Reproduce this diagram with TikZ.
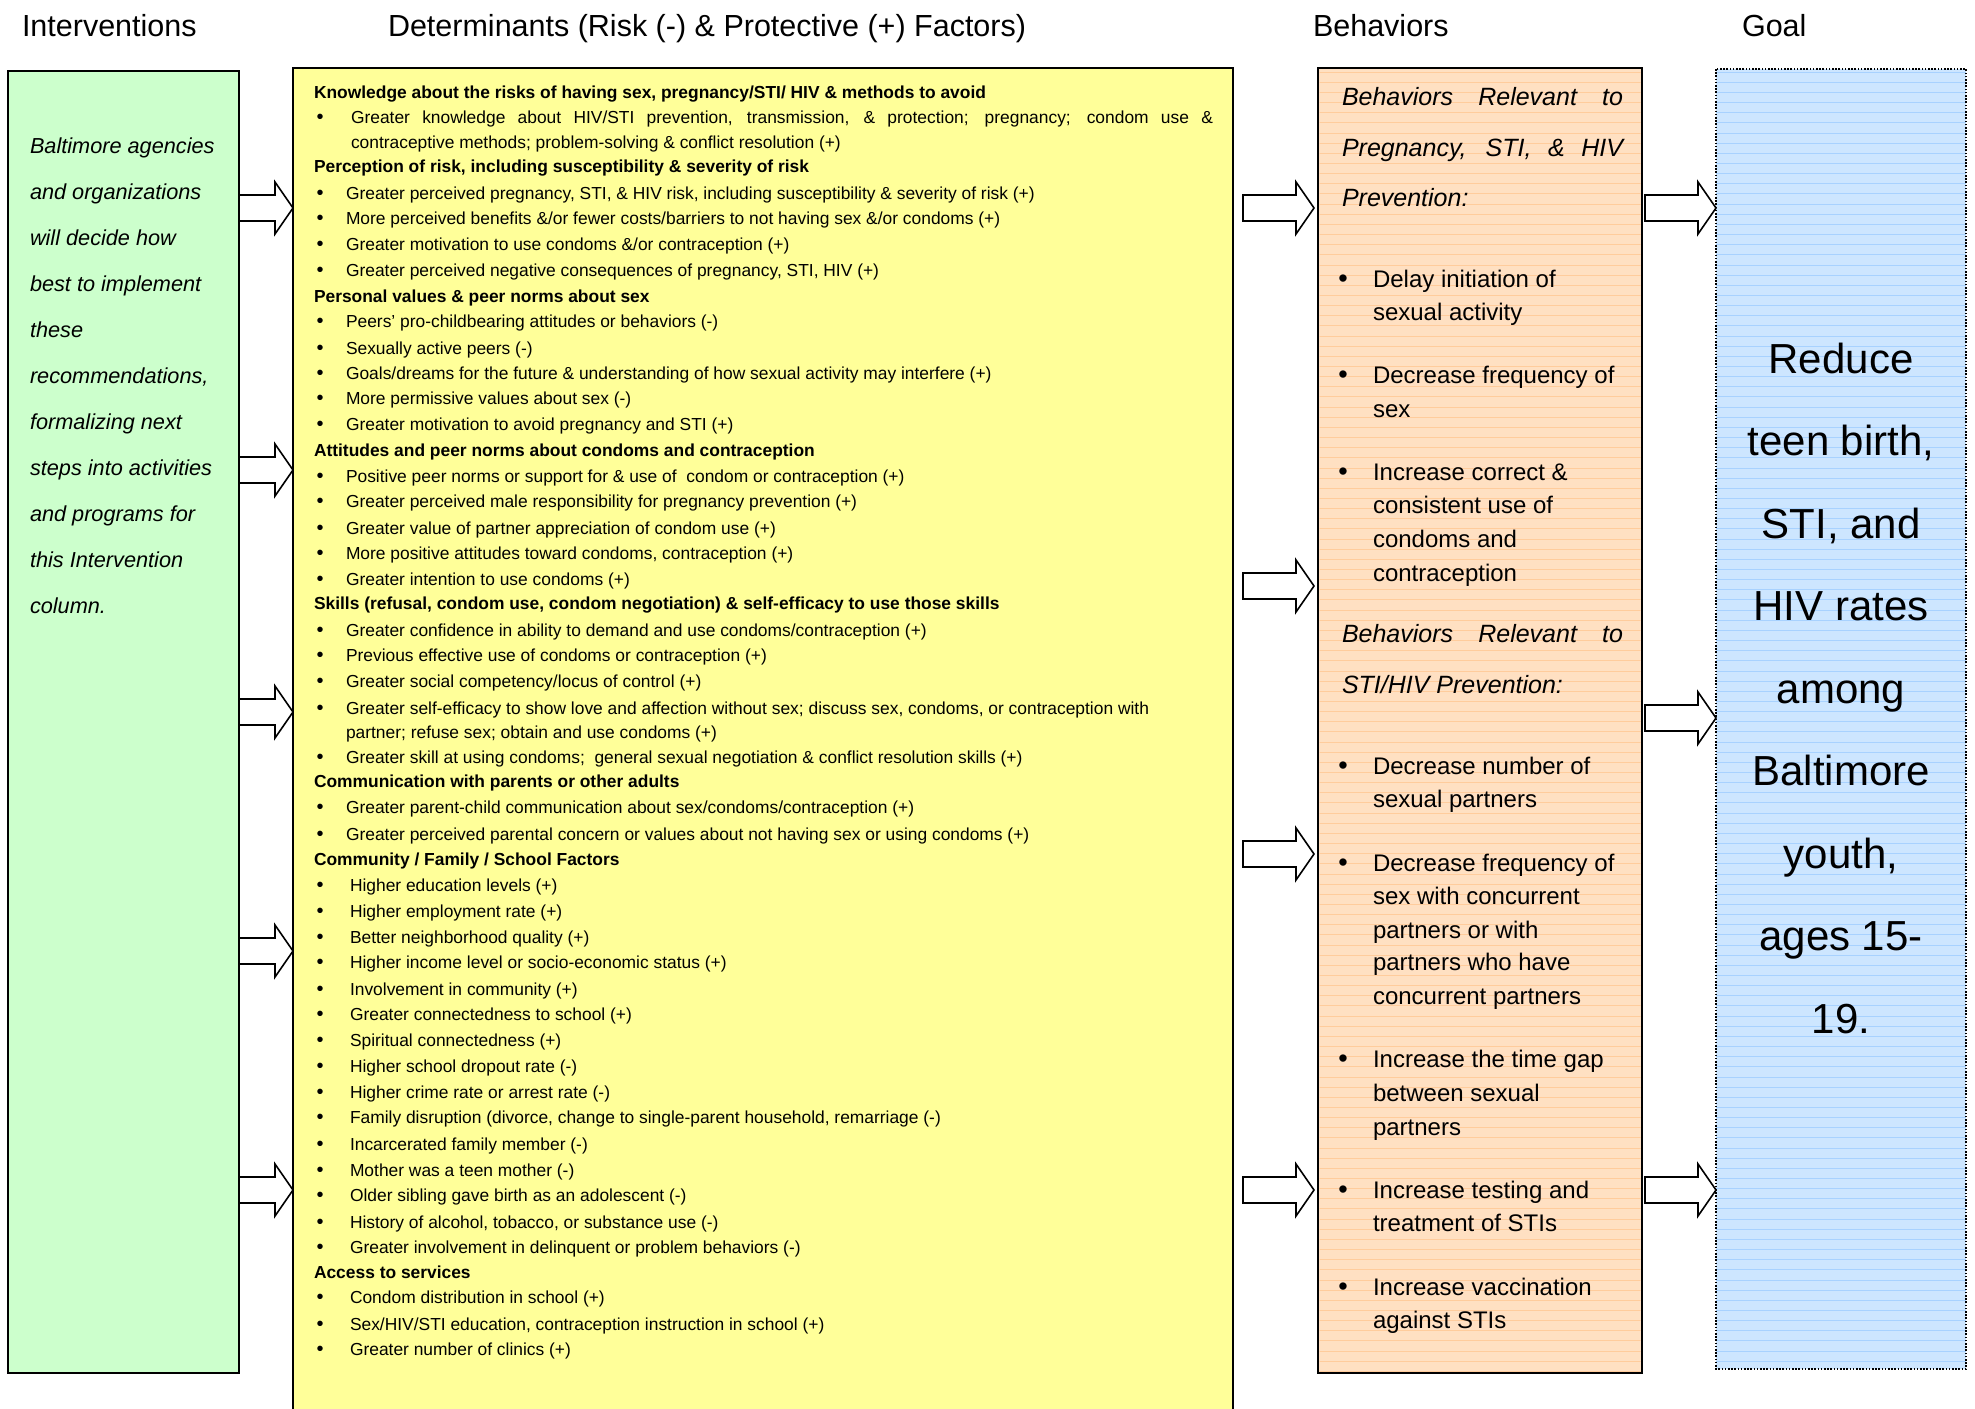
\documentclass[tikz,border=0pt]{standalone}
\usepackage{fontspec}
\setmainfont{Liberation Sans}
\usetikzlibrary{calc}
\definecolor{grn}{HTML}{CCFFCC}
\definecolor{ylw}{HTML}{FFFF99}
\definecolor{org}{HTML}{FFE0C2}
\definecolor{orgline}{HTML}{FFCC9C}
\definecolor{blu}{HTML}{CDE6FF}
\definecolor{bluline}{HTML}{A8D2FF}
\newcommand\fsz[1]{\fontsize{#1}{#1}\selectfont}
\tikzset{
  colbox/.style={draw=black, line width=2pt, inner sep=0pt, outer sep=0pt, anchor=north west},
  txt/.style={anchor=base west, inner sep=0pt, outer sep=0pt},
  ctxt/.style={anchor=base, inner sep=0pt, outer sep=0pt},
  head/.style={txt, font=\fsz{30.5}},
  ytxt/.style={txt, font=\fsz{17.4}},
  ybul/.style={ctxt, font=\fsz{20}},
  gtxt/.style={txt, font=\fsz{21.7}\itshape},
  otxt/.style={txt, font=\fsz{24}},
  obul/.style={ctxt, font=\fsz{27}},
  ohead/.style={txt, font=\fsz{25}\itshape},
  btxt/.style={ctxt, font=\fsz{42}},
  barrow/.style={draw=black, fill=white, line width=1.6pt, line join=miter},
}
% yellow box lines
\newcommand\yh[3]{\node[ytxt, font=\fsz{17.4}\bfseries] (#1) at (314,#2) {#3};}
\newcommand\yb[4]{\node[ybul] (#1b) at (320,#3) {•};\node[ytxt] (#1) at (#2,#3) {#4};}
\newcommand\yc[4]{\node[ytxt] (#1) at (#2,#3) {#4};}
% orange box lines
\newcommand\ob[3]{\node[obul] (#1b) at (1343,#2) {•};\node[otxt] (#1) at (1373,#2) {#3};}
\newcommand\oc[3]{\node[otxt] (#1) at (1373,#2) {#3};}
% block arrow: from, to, y, tail gap, tip gap
\newcommand\barr[5]{%
  \draw[barrow] let \p1=(#1.east), \p2=(#2.west), \p3=(0,#3) in
    (\x1+#4pt,\y3+13pt) -- (\x2-#5pt-18pt,\y3+13pt) -- (\x2-#5pt-18pt,\y3+26pt)
    -- (\x2-#5pt,\y3) -- (\x2-#5pt-18pt,\y3-26pt) -- (\x2-#5pt-18pt,\y3-13pt)
    -- (\x1+#4pt,\y3-13pt) -- cycle;}
\begin{document}
\begin{tikzpicture}[x=1pt,y=-1pt]
\useasboundingbox (0,0) rectangle (1975,1408);
\fill[white] (0,0) rectangle (1975,1408);

% column headings
\node[head] (h1) at (22,36) {Interventions};
\node[head] (h2) at (388,36) {Determinants (Risk (-) \& Protective (+) Factors)};
\node[head] (h3) at (1313,36) {Behaviors};
\node[head] (h4) at (1742,36) {Goal};

% boxes
\node[colbox, fill=grn, minimum width=231pt, minimum height=1302pt] (green) at (8,71) {};
\node[colbox, fill=ylw, minimum width=940pt, minimum height=1360pt] (yellow) at (293,68) {};
\node[colbox, fill=org, minimum width=324pt, minimum height=1305pt] (orange) at (1318,68) {};
\node[colbox, fill=blu, draw=none, minimum width=250pt, minimum height=1300pt] (blue) at (1716,69) {};

% hatching
\begin{scope}
  \clip (1319.5,69.5) rectangle (1640.5,1371.5);
  \foreach \yy in {0,...,128} \draw[orgline, line width=0.7pt] (1318,72+10.15*\yy) -- (1642,72+10.15*\yy);
\end{scope}
\begin{scope}
  \clip (1716,69) rectangle (1966,1369);
  \foreach \yy in {0,...,128} \draw[bluline, line width=0.7pt] (1716,72+10.15*\yy) -- (1966,72+10.15*\yy);
\end{scope}
\draw[black, line width=1.6pt, dash pattern=on 1.6pt off 1.6pt] (blue.north west) rectangle (blue.south east);

% arrows
\barr{green}{yellow}{208}{0}{0}
\barr{green}{yellow}{470}{0}{0}
\barr{green}{yellow}{712}{0}{0}
\barr{green}{yellow}{951}{0}{0}
\barr{green}{yellow}{1190}{0}{0}
\barr{yellow}{orange}{208}{10}{4}
\barr{yellow}{orange}{586}{10}{4}
\barr{yellow}{orange}{854}{10}{4}
\barr{yellow}{orange}{1190}{10}{4}
\barr{orange}{blue}{208}{3}{0}
\barr{orange}{blue}{718}{3}{0}
\barr{orange}{blue}{1190}{3}{0}

% interventions text
\node[gtxt] (g1) at (30,153) {Baltimore agencies};
\node[gtxt] (g2) at (30,199) {and organizations};
\node[gtxt] (g3) at (30,245) {will decide how};
\node[gtxt] (g4) at (30,291) {best to implement};
\node[gtxt] (g5) at (30,337) {these};
\node[gtxt] (g6) at (30,383) {recommendations,};
\node[gtxt] (g7) at (30,429) {formalizing next};
\node[gtxt] (g8) at (30,475) {steps into activities};
\node[gtxt] (g9) at (30,521) {and programs for};
\node[gtxt] (g10) at (30,567) {this Intervention};
\node[gtxt] (g11) at (30,613) {column.};

% determinants text
\yh{d1}{98}{Knowledge about the risks of having sex, pregnancy/STI/ HIV \& methods to avoid}
\yb{d2}{351}{123}{\makebox[862pt][s]{Greater knowledge about HIV/STI prevention, transmission, \& protection; pregnancy; condom use \&}}
\yc{d3}{351}{148}{contraceptive methods; problem-solving \& conflict resolution (+)}
\yh{d4}{172}{Perception of risk, including susceptibility \& severity of risk}
\yb{d5}{346}{199}{Greater perceived pregnancy, STI, \& HIV risk, including susceptibility \& severity of risk (+)}
\yb{d6}{346}{224}{More perceived benefits \&/or fewer costs/barriers to not having sex \&/or condoms (+)}
\yb{d7}{346}{250}{Greater motivation to use condoms \&/or contraception (+)}
\yb{d8}{346}{276}{Greater perceived negative consequences of pregnancy, STI, HIV (+)}
\yh{d9}{302}{Personal values \& peer norms about sex}
\yb{d10}{346}{327}{Peers’ pro-childbearing attitudes or behaviors (-)}
\yb{d11}{346}{354}{Sexually active peers (-)}
\yb{d12}{346}{379}{Goals/dreams for the future \& understanding of how sexual activity may interfere (+)}
\yb{d13}{346}{404}{More permissive values about sex (-)}
\yb{d14}{346}{430}{Greater motivation to avoid pregnancy and STI (+)}
\yh{d15}{456}{Attitudes and peer norms about condoms and contraception}
\yb{d16}{346}{482}{Positive peer norms or support for \& use of\ \ condom or contraception (+)}
\yb{d17}{346}{507}{Greater perceived male responsibility for pregnancy prevention (+)}
\yb{d18}{346}{534}{Greater value of partner appreciation of condom use (+)}
\yb{d19}{346}{559}{More positive attitudes toward condoms, contraception (+)}
\yb{d20}{346}{585}{Greater intention to use condoms (+)}
\yh{d21}{609}{Skills (refusal, condom use, condom negotiation) \& self-efficacy to use those skills}
\yb{d22}{346}{636}{Greater confidence in ability to demand and use condoms/contraception (+)}
\yb{d23}{346}{661}{Previous effective use of condoms or contraception (+)}
\yb{d24}{346}{687}{Greater social competency/locus of control (+)}
\yb{d25}{346}{714}{Greater self-efficacy to show love and affection without sex; discuss sex, condoms, or contraception with}
\yc{d26}{346}{738}{partner; refuse sex; obtain and use condoms (+)}
\yb{d27}{346}{763}{Greater skill at using condoms;\ \ general sexual negotiation \& conflict resolution skills (+)}
\yh{d28}{787}{Communication with parents or other adults}
\yb{d29}{346}{813}{Greater parent-child communication about sex/condoms/contraception (+)}
\yb{d30}{346}{840}{Greater perceived parental concern or values about not having sex or using condoms (+)}
\yh{d31}{865}{Community / Family / School Factors}
\yb{d32}{350}{891}{Higher education levels (+)}
\yb{d33}{350}{917}{Higher employment rate (+)}
\yb{d34}{350}{943}{Better neighborhood quality (+)}
\yb{d35}{350}{968}{Higher income level or socio-economic status (+)}
\yb{d36}{350}{995}{Involvement in community (+)}
\yb{d37}{350}{1020}{Greater connectedness to school (+)}
\yb{d38}{350}{1046}{Spiritual connectedness (+)}
\yb{d39}{350}{1072}{Higher school dropout rate (-)}
\yb{d40}{350}{1098}{Higher crime rate or arrest rate (-)}
\yb{d41}{350}{1123}{Family disruption (divorce, change to single-parent household, remarriage (-)}
\yb{d42}{350}{1150}{Incarcerated family member (-)}
\yb{d43}{350}{1176}{Mother was a teen mother (-)}
\yb{d44}{350}{1201}{Older sibling gave birth as an adolescent (-)}
\yb{d45}{350}{1228}{History of alcohol, tobacco, or substance use (-)}
\yb{d46}{350}{1253}{Greater involvement in delinquent or problem behaviors (-)}
\yh{d47}{1278}{Access to services}
\yb{d48}{350}{1303}{Condom distribution in school (+)}
\yb{d49}{350}{1330}{Sex/HIV/STI education, contraception instruction in school (+)}
\yb{d50}{350}{1355}{Greater number of clinics (+)}

% behaviors text
\node[ohead] (o1) at (1342,105) {\makebox[281pt][s]{Behaviors Relevant to}};
\node[ohead] (o2) at (1342,156) {\makebox[281pt][s]{Pregnancy, STI, \& HIV}};
\node[ohead] (o3) at (1342,206) {Prevention:};
\ob{o4}{287}{Delay initiation of}
\oc{o5}{320}{sexual activity}
\ob{o6}{383}{Decrease frequency of}
\oc{o7}{417}{sex}
\ob{o8}{480}{Increase correct \&}
\oc{o9}{513}{consistent use of}
\oc{o10}{547}{condoms and}
\oc{o11}{581}{contraception}
\node[ohead] (o12) at (1342,642) {\makebox[281pt][s]{Behaviors Relevant to}};
\node[ohead] (o13) at (1342,693) {STI/HIV Prevention:};
\ob{o14}{774}{Decrease number of}
\oc{o15}{807}{sexual partners}
\ob{o16}{871}{Decrease frequency of}
\oc{o17}{904}{sex with concurrent}
\oc{o18}{938}{partners or with}
\oc{o19}{970}{partners who have}
\oc{o20}{1004}{concurrent partners}
\ob{o21}{1067}{Increase the time gap}
\oc{o22}{1101}{between sexual}
\oc{o23}{1135}{partners}
\ob{o24}{1198}{Increase testing and}
\oc{o25}{1231}{treatment of STIs}
\ob{o26}{1295}{Increase vaccination}
\oc{o27}{1328}{against STIs}

% goal text
\node[btxt] (b1) at (1841,373) {Reduce};
\node[btxt] (b2) at (1841,455.5) {teen birth,};
\node[btxt] (b3) at (1841,538) {STI, and};
\node[btxt] (b4) at (1841,620.5) {HIV rates};
\node[btxt] (b5) at (1841,703) {among};
\node[btxt] (b6) at (1841,785.5) {Baltimore};
\node[btxt] (b7) at (1841,868) {youth,};
\node[btxt] (b8) at (1841,950.5) {ages 15-};
\node[btxt] (b9) at (1841,1033) {19.};
\end{tikzpicture}
\end{document}
